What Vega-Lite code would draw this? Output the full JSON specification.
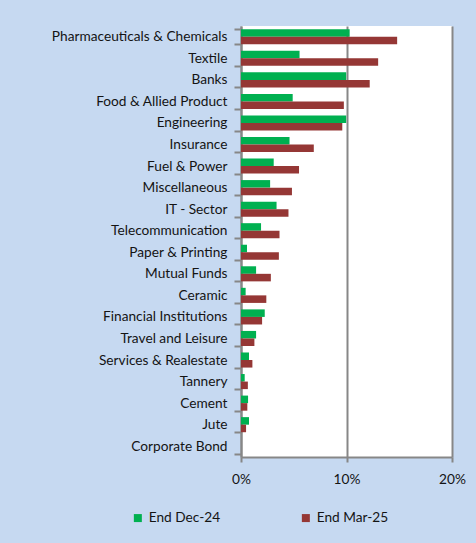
{
  "$schema": "https://vega.github.io/schema/vega-lite/v6.json",
  "width": 211,
  "height": 431,
  "autosize": {"type": "none"},
  "padding": {"left": 241, "top": 26, "right": 24, "bottom": 86},
  "background": "#c6d9f1",
  "config": {"view": {"fill": "white", "stroke": null}, "font": "Lato"},
  "data": {
    "values": [
      {"sector": "Pharmaceuticals & Chemicals", "series": "End Dec-24", "value": 0.103},
      {"sector": "Pharmaceuticals & Chemicals", "series": "End Mar-25", "value": 0.148},
      {"sector": "Textile", "series": "End Dec-24", "value": 0.0555},
      {"sector": "Textile", "series": "End Mar-25", "value": 0.130},
      {"sector": "Banks", "series": "End Dec-24", "value": 0.0997},
      {"sector": "Banks", "series": "End Mar-25", "value": 0.122},
      {"sector": "Food & Allied Product", "series": "End Dec-24", "value": 0.049},
      {"sector": "Food & Allied Product", "series": "End Mar-25", "value": 0.0975},
      {"sector": "Engineering", "series": "End Dec-24", "value": 0.0997},
      {"sector": "Engineering", "series": "End Mar-25", "value": 0.096},
      {"sector": "Insurance", "series": "End Dec-24", "value": 0.046},
      {"sector": "Insurance", "series": "End Mar-25", "value": 0.069},
      {"sector": "Fuel & Power", "series": "End Dec-24", "value": 0.031},
      {"sector": "Fuel & Power", "series": "End Mar-25", "value": 0.055},
      {"sector": "Miscellaneous", "series": "End Dec-24", "value": 0.0276},
      {"sector": "Miscellaneous", "series": "End Mar-25", "value": 0.0483},
      {"sector": "IT - Sector", "series": "End Dec-24", "value": 0.0337},
      {"sector": "IT - Sector", "series": "End Mar-25", "value": 0.045},
      {"sector": "Telecommunication", "series": "End Dec-24", "value": 0.019},
      {"sector": "Telecommunication", "series": "End Mar-25", "value": 0.0365},
      {"sector": "Paper & Printing", "series": "End Dec-24", "value": 0.0057},
      {"sector": "Paper & Printing", "series": "End Mar-25", "value": 0.0359},
      {"sector": "Mutual Funds", "series": "End Dec-24", "value": 0.0143},
      {"sector": "Mutual Funds", "series": "End Mar-25", "value": 0.0283},
      {"sector": "Ceramic", "series": "End Dec-24", "value": 0.0044},
      {"sector": "Ceramic", "series": "End Mar-25", "value": 0.024},
      {"sector": "Financial Institutions", "series": "End Dec-24", "value": 0.0225},
      {"sector": "Financial Institutions", "series": "End Mar-25", "value": 0.020},
      {"sector": "Travel and Leisure", "series": "End Dec-24", "value": 0.0143},
      {"sector": "Travel and Leisure", "series": "End Mar-25", "value": 0.0127},
      {"sector": "Services & Realestate", "series": "End Dec-24", "value": 0.0076},
      {"sector": "Services & Realestate", "series": "End Mar-25", "value": 0.0108},
      {"sector": "Tannery", "series": "End Dec-24", "value": 0.0035},
      {"sector": "Tannery", "series": "End Mar-25", "value": 0.0065},
      {"sector": "Cement", "series": "End Dec-24", "value": 0.0067},
      {"sector": "Cement", "series": "End Mar-25", "value": 0.006},
      {"sector": "Jute", "series": "End Dec-24", "value": 0.0076},
      {"sector": "Jute", "series": "End Mar-25", "value": 0.0048},
      {"sector": "Corporate Bond", "series": "End Dec-24", "value": 0},
      {"sector": "Corporate Bond", "series": "End Mar-25", "value": 0}
    ]
  },
  "mark": {"type": "bar"},
  "encoding": {
    "y": {
      "field": "sector",
      "type": "nominal",
      "sort": null,
      "scale": {"paddingInner": 0.3, "paddingOuter": 0.15},
      "axis": {
        "title": null,
        "tickBand": "extent",
        "grid": false,
        "domainColor": "#878787",
        "domainWidth": 2,
        "tickColor": "#878787",
        "tickWidth": 2,
        "tickSize": 7,
        "labelPadding": 7,
        "labelFontSize": 13.7,
        "labelColor": "#141414",
        "labelLimit": 300
      }
    },
    "x": {
      "field": "value",
      "type": "quantitative",
      "scale": {"domain": [0, 0.2]},
      "axis": {
        "title": null,
        "format": ".0%",
        "values": [0, 0.1, 0.2],
        "labelFlush": false,
        "grid": true,
        "gridColor": "#878787",
        "gridWidth": 2,
        "domainColor": "#878787",
        "domainWidth": 2,
        "tickColor": "#878787",
        "tickWidth": 2,
        "tickSize": 5,
        "labelPadding": 10,
        "labelFontSize": 13.7,
        "labelColor": "#141414"
      }
    },
    "yOffset": {"field": "series", "sort": ["End Dec-24", "End Mar-25"]},
    "color": {
      "field": "series",
      "type": "nominal",
      "scale": {"domain": ["End Dec-24", "End Mar-25"], "range": ["#00b050", "#953735"]},
      "legend": {
        "title": null,
        "orient": "none",
        "legendX": -110,
        "legendY": 485,
        "direction": "horizontal",
        "symbolType": "square",
        "symbolSize": 64,
        "symbolStrokeWidth": 0,
        "labelFontSize": 13.7,
        "labelColor": "#141414",
        "columnPadding": 78
      }
    }
  }
}
